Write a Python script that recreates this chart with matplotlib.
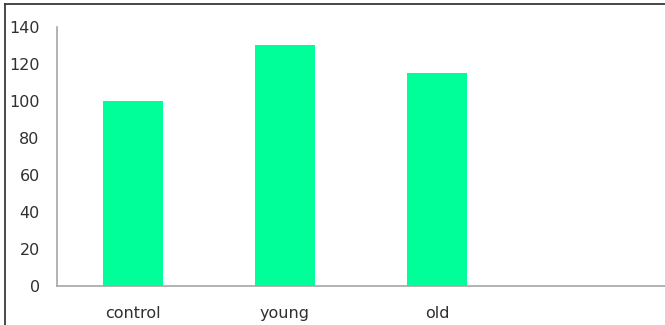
import matplotlib
matplotlib.use("Agg")
import matplotlib.pyplot as plt
from matplotlib.lines import Line2D

# Category slots (the last one is left empty) and values
categories = ["control", "young", "old", ""]
values = [100, 130, 115, 0]
yticks = [0, 20, 40, 60, 80, 100, 120, 140]

W, H = 665, 325
plt.rcParams["font.family"] = ["DejaVu Sans"]

fig = plt.figure(figsize=(W / 100, H / 100), dpi=100)
fig.patch.set_facecolor("white")

left, right = 57, 665
top, bottom = 27, 285.5
ax = fig.add_axes([left / W, (H - bottom) / H, (right - left) / W, (bottom - top) / H])

x = list(range(len(categories)))
ax.bar(x[:3], values[:3], width=0.4, color="#00FF99", zorder=2)

ax.set_xlim(-0.5, len(categories) - 0.5)
ax.set_ylim(0, 140)
ax.set_yticks(yticks)
ax.set_yticklabels([str(v) for v in yticks])
ax.set_xticks(x)
ax.set_xticklabels(categories)

text_color = "#303030"
ax.tick_params(axis="both", length=0, labelsize=11.5, colors=text_color)
ax.tick_params(axis="y", pad=12.5)
ax.tick_params(axis="x", pad=14.5)

for side in ("top", "right"):
    ax.spines[side].set_visible(False)
for side in ("left", "bottom"):
    ax.spines[side].set_color("#a6a6a6")
    ax.spines[side].set_linewidth(1.2)

# Frame lines along the left and top edges of the canvas
fig.add_artist(Line2D([5.5 / W, 5.5 / W], [0, 1 - 3.5 / H], transform=fig.transFigure,
                      color="#3a3a3a", linewidth=1.3))
fig.add_artist(Line2D([5.5 / W, 1], [1 - 3.5 / H, 1 - 3.5 / H], transform=fig.transFigure,
                      color="#3a3a3a", linewidth=1.3))

fig.savefig("out.png", dpi=100, facecolor="white")
